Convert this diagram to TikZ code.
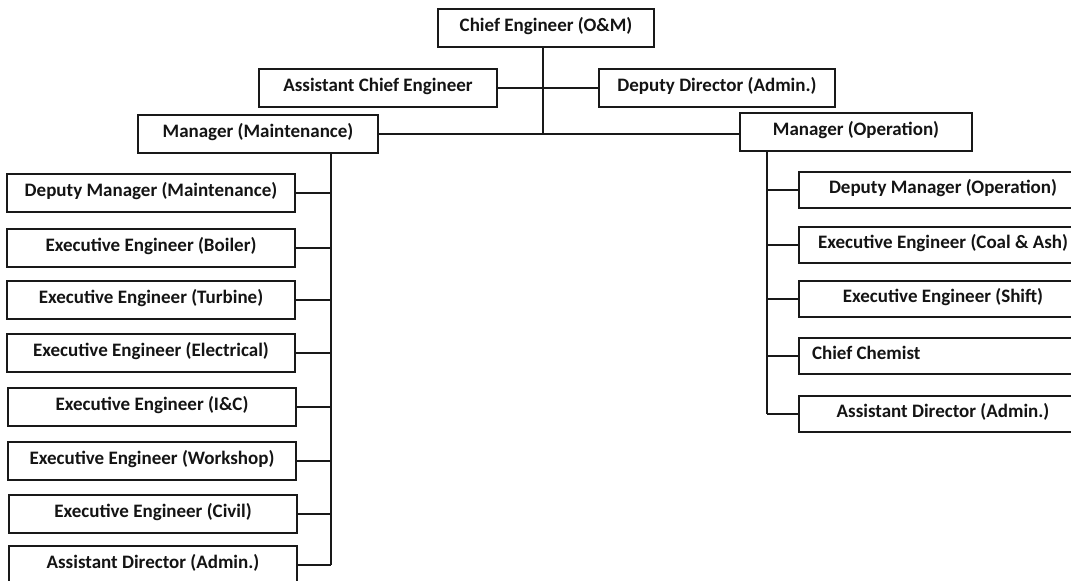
\documentclass[tikz,border=0pt]{standalone}
\usepackage{fontspec}
\setmainfont{Carlito}
\begin{document}
\begin{tikzpicture}[x=1pt,y=-1pt,
  box/.style={draw=black!90, line width=2pt, rectangle, inner sep=0pt,
    text height=14pt, text depth=8pt,
    font=\bfseries\fontsize{19}{21}\selectfont, text=black!92},
  wire/.style={draw=black!90, line width=2pt}]
\clip (0,0) rectangle (1071,581);
\fill[white] (0,0) rectangle (1071,581);

% top level
\node[box, minimum width=216pt, minimum height=38pt] (chief) at (546,28) {Chief Engineer (O\&M)};
\node[box, minimum width=238pt, minimum height=38pt] (ace) at (378,88) {Assistant Chief Engineer};
\node[box, minimum width=236pt, minimum height=38pt] (dda) at (717,88) {Deputy Director (Admin.)};
\node[box, minimum width=240pt, minimum height=38pt] (mm) at (258,134) {Manager (Maintenance)};
\node[box, minimum width=232pt, minimum height=38pt] (mo) at (856,132) {Manager (Operation)};

% maintenance branch
\begin{scope}[every node/.style={box, minimum width=288pt, minimum height=38pt}]
\node (l1) at (151,193) {Deputy Manager (Maintenance)};
\node (l2) at (151,248) {Executive Engineer (Boiler)};
\node (l3) at (151,300) {Executive Engineer (Turbine)};
\node (l4) at (151,353) {Executive Engineer (Electrical)};
\node (l5) at (152,407) {Executive Engineer (I\&C)};
\node (l6) at (152,461) {Executive Engineer (Workshop)};
\node (l7) at (153,514) {Executive Engineer (Civil)};
\node (l8) at (153,565) {Assistant Director (Admin.)};
\end{scope}

% operation branch
\begin{scope}[every node/.style={box, minimum width=288pt, minimum height=36pt}]
\node (r1) at (943,190) {Deputy Manager (Operation)};
\node (r2) at (943,245) {Executive Engineer (Coal \& Ash)};
\node (r3) at (943,299) {Executive Engineer (Shift)};
\node[text width=262pt, align=flush left, inner xsep=13pt] (r4) at (943,356) {Chief Chemist};
\node (r5) at (943,414) {Assistant Director (Admin.)};
\end{scope}

% spines
\coordinate (trunk) at (543,0);
\coordinate (lsp) at (331,0);
\coordinate (rsp) at (767,0);

\draw[wire] (chief.south -| trunk) -- (mm.east -| trunk);
\draw[wire] (ace.east) -- (dda.west);
\draw[wire] (mm.east) -- (mm.east -| mo.west);
\draw[wire] (mm.south -| lsp) -- (l8.east -| lsp);
\draw[wire] (mo.south -| rsp) -- (r5.west -| rsp);
\foreach \n in {l1,l2,l3,l4,l5,l6,l7,l8}
  \draw[wire] (\n.east) -- (\n.east -| lsp);
\foreach \n in {r1,r2,r3,r4,r5}
  \draw[wire] (\n.west) -- (\n.west -| rsp);
\end{tikzpicture}
\end{document}
